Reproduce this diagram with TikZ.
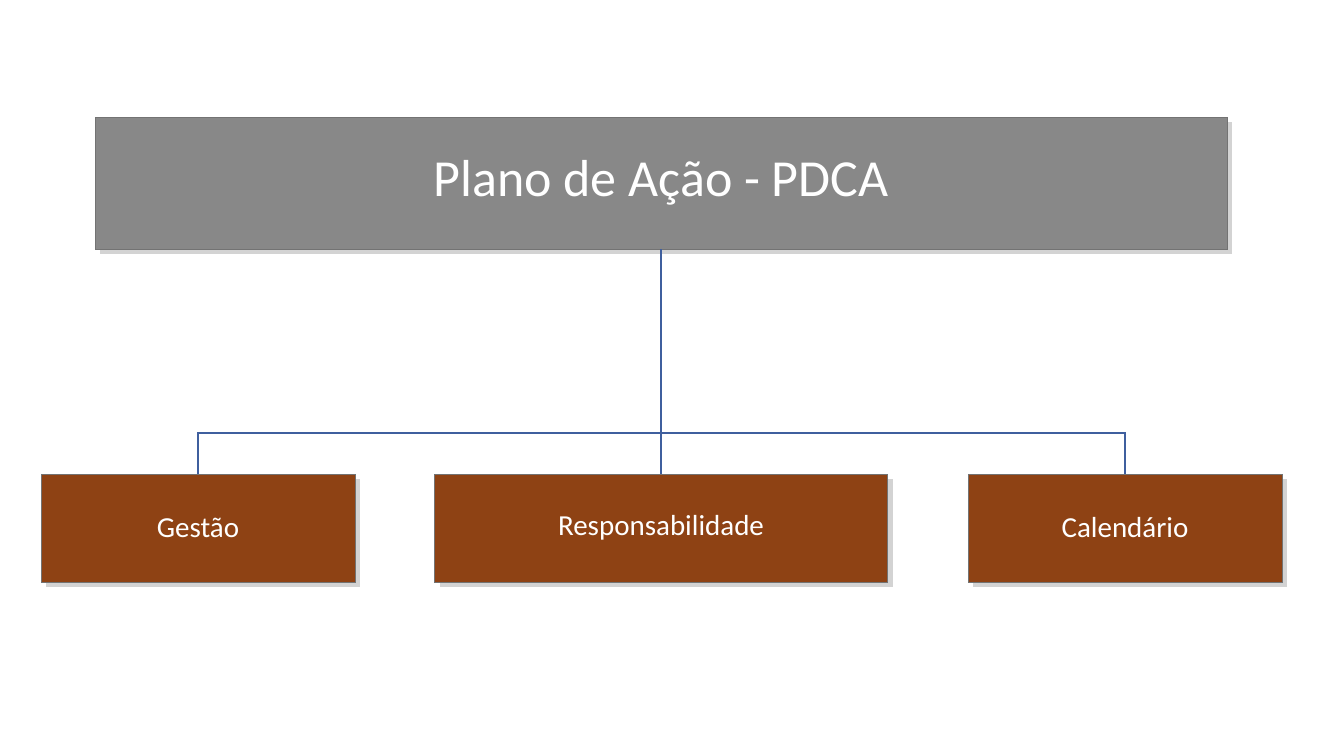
\documentclass[tikz,border=0pt]{standalone}
\usepackage{fontspec}
\setmainfont{Carlito}
\usetikzlibrary{shadows}
\definecolor{topgray}{HTML}{888888}
\definecolor{brown1}{HTML}{8E4214}
\definecolor{linkblue}{HTML}{3F5F9E}
\begin{document}
\begin{tikzpicture}[x=1pt,y=-1pt,
  box/.style={draw=black!55,line width=0.8pt,inner sep=0pt,
    drop shadow={shadow xshift=5pt,shadow yshift=-5pt,opacity=0.35}},
  link/.style={draw=linkblue,line width=2.2pt},
  lbl/.style={text=white}]
\useasboundingbox (0,0) rectangle (1323,744);
\node[box,fill=topgray,minimum width=1132pt,minimum height=132pt] (top) at (661,183) {};
\node[lbl,font=\fontsize{52}{60}\selectfont] at (661,183) {Plano de Ação - PDCA};
\node[box,fill=brown1,minimum width=314pt,minimum height=108pt] (g) at (198,528) {};
\node[lbl,font=\fontsize{29}{34}\selectfont] at (198,528) {Gestão};
\node[box,fill=brown1,minimum width=453pt,minimum height=108pt] (r) at (661,528) {};
\node[lbl,font=\fontsize{29}{34}\selectfont] at (661,528) {Responsabilidade};
\node[box,fill=brown1,minimum width=314pt,minimum height=108pt] (c) at (1125,528) {};
\node[lbl,font=\fontsize{29}{34}\selectfont] at (1125,528) {Calendário};
\coordinate (j) at (661,433);
\draw[link] (top.south) -- (j);
\draw[link] (j) -- (r.north);
\draw[link] (g.north) -- (g.north |- j) -- (c.north |- j) -- (c.north);
\end{tikzpicture}
\end{document}
